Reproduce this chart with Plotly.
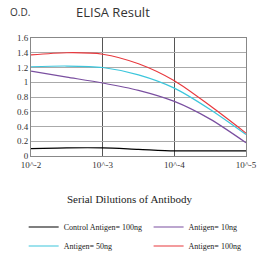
import plotly.graph_objects as go

x_pos = [0, 1, 2, 3]
x_labels = ["10^-2", "10^-3", "10^-4", "10^-5"]
x_fine = [0, 0.5, 1, 1.5, 2, 2.5, 3]

control_100 = [0.10, 0.11, 0.11, 0.09, 0.07, 0.07, 0.07]
antigen_10 = [1.15, 1.07, 0.99, 0.89, 0.74, 0.50, 0.18]
antigen_50 = [1.21, 1.22, 1.20, 1.10, 0.92, 0.63, 0.29]
antigen_100 = [1.37, 1.40, 1.38, 1.25, 1.02, 0.68, 0.31]

series = [
    ("Control Antigen= 100ng", control_100, "#000000", "legend"),
    ("Antigen= 10ng", antigen_10, "#7a4fa0", "legend2"),
    ("Antigen= 50ng", antigen_50, "#3cc6dc", "legend"),
    ("Antigen= 100ng", antigen_100, "#e8383d", "legend2"),
]

fig = go.Figure()
for name, vals, color, leg in series:
    fig.add_trace(go.Scatter(x=x_fine, y=vals, mode="lines", name=name, legend=leg,
                             line=dict(color=color, width=1.2, shape="spline", smoothing=0.8)))

serif = "Liberation Serif"
leg_common = dict(orientation="v", yref="container", xref="container",
                  yanchor="top", y=0.195, xanchor="left",
                  font=dict(family=serif, size=8, color="#222"), itemwidth=30,
                  tracegroupgap=0, bgcolor="rgba(0,0,0,0)", borderwidth=0)
fig.update_layout(
    width=263, height=264,
    margin=dict(l=31, r=17, t=38, b=108, autoexpand=False),
    paper_bgcolor="white", plot_bgcolor="white",
    font=dict(family=serif, size=9, color="#333"),
    xaxis=dict(range=[0, 3], tickvals=x_pos, ticktext=x_labels, showgrid=True,
               gridcolor="#555", gridwidth=1, zeroline=False, showline=True,
               linecolor="#888", mirror=True, ticks="", tickfont=dict(size=9)),
    yaxis=dict(range=[0, 1.6], dtick=0.2, showgrid=True, gridcolor="#aaa",
               zeroline=False, showline=True, linecolor="#888", mirror=True,
               ticks="", tickformat="~g", tickfont=dict(size=9)),
    showlegend=True,
    legend=dict(x=0.09, **leg_common),
    legend2=dict(x=0.565, **leg_common),
    annotations=[
        dict(text="ELISA Result", xref="paper", yref="paper", x=0.38, y=1, yshift=26,
             xanchor="center", yanchor="middle", showarrow=False,
             font=dict(family="Open Sans", size=13, color="#333")),
        dict(text="O.D.", xref="paper", yref="paper", x=0, xshift=-23, y=1, yshift=26,
             xanchor="left", yanchor="middle", showarrow=False,
             font=dict(family="Open Sans", size=10, color="#333")),
        dict(text="Serial Dilutions of Antibody", xref="paper", yref="paper", x=0.46,
             y=0, yshift=-43, xanchor="center", yanchor="middle", showarrow=False,
             font=dict(family=serif, size=11, color="#222")),
    ],
)
fig.write_html("out.html")
